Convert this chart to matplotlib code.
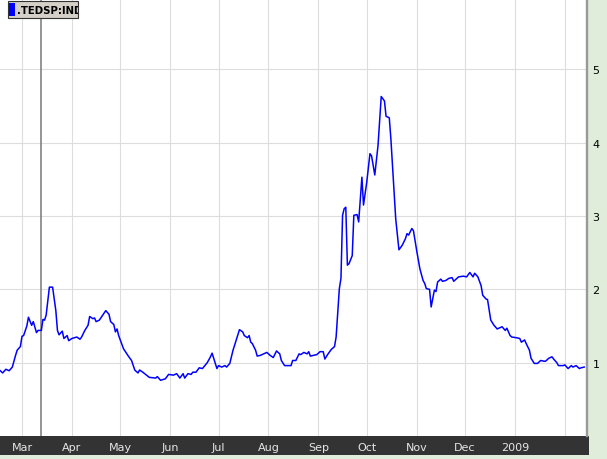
import matplotlib
matplotlib.use("Agg")
import matplotlib.pyplot as plt
import matplotlib.dates as mdates
from matplotlib.patches import Rectangle
import pandas as pd

# ---- data (TED spread) ----
dates = [
    "2008-02-16", "2008-02-18", "2008-02-20", "2008-02-22", "2008-02-24", "2008-02-26", "2008-02-27", "2008-02-29",
    "2008-03-01", "2008-03-02", "2008-03-04", "2008-03-05", "2008-03-07", "2008-03-08", "2008-03-10", "2008-03-11",
    "2008-03-13", "2008-03-14", "2008-03-15", "2008-03-16", "2008-03-18", "2008-03-20", "2008-03-22", "2008-03-23",
    "2008-03-24", "2008-03-26", "2008-03-27", "2008-03-29", "2008-03-30", "2008-04-01", "2008-04-04", "2008-04-06",
    "2008-04-07", "2008-04-09", "2008-04-11", "2008-04-12", "2008-04-14", "2008-04-15", "2008-04-16", "2008-04-18",
    "2008-04-22", "2008-04-24", "2008-04-25", "2008-04-27", "2008-04-28", "2008-04-29", "2008-04-30", "2008-05-03",
    "2008-05-06", "2008-05-08", "2008-05-10", "2008-05-12", "2008-05-13", "2008-05-15", "2008-05-19", "2008-05-23",
    "2008-05-24", "2008-05-26", "2008-05-29", "2008-05-31", "2008-06-03", "2008-06-05", "2008-06-07", "2008-06-09",
    "2008-06-10", "2008-06-12", "2008-06-14", "2008-06-15", "2008-06-17", "2008-06-19", "2008-06-21", "2008-06-24",
    "2008-06-26", "2008-06-27", "2008-06-28", "2008-06-30", "2008-07-01", "2008-07-03", "2008-07-05", "2008-07-06",
    "2008-07-08", "2008-07-10", "2008-07-12", "2008-07-14", "2008-07-16", "2008-07-17", "2008-07-19", "2008-07-20",
    "2008-07-21", "2008-07-22", "2008-07-24", "2008-07-25", "2008-07-27", "2008-07-29", "2008-07-31", "2008-08-01",
    "2008-08-02", "2008-08-04", "2008-08-06", "2008-08-08", "2008-08-09", "2008-08-11", "2008-08-13", "2008-08-15",
    "2008-08-16", "2008-08-18", "2008-08-20", "2008-08-21", "2008-08-23", "2008-08-25", "2008-08-26", "2008-08-27",
    "2008-08-29", "2008-08-31", "2008-09-02", "2008-09-04", "2008-09-05", "2008-09-07", "2008-09-09", "2008-09-11",
    "2008-09-12", "2008-09-13", "2008-09-14", "2008-09-15", "2008-09-16", "2008-09-17", "2008-09-18", "2008-09-19",
    "2008-09-20", "2008-09-22", "2008-09-23", "2008-09-25", "2008-09-26", "2008-09-28", "2008-09-29", "2008-10-01",
    "2008-10-03", "2008-10-04", "2008-10-06", "2008-10-08", "2008-10-10", "2008-10-12", "2008-10-13", "2008-10-15",
    "2008-10-16", "2008-10-19", "2008-10-21", "2008-10-23", "2008-10-25", "2008-10-26", "2008-10-27", "2008-10-29",
    "2008-10-30", "2008-11-01", "2008-11-03", "2008-11-05", "2008-11-06", "2008-11-07", "2008-11-09", "2008-11-10",
    "2008-11-12", "2008-11-13", "2008-11-14", "2008-11-16", "2008-11-17", "2008-11-19", "2008-11-21", "2008-11-23",
    "2008-11-24", "2008-11-26", "2008-11-27", "2008-11-30", "2008-12-02", "2008-12-03", "2008-12-04", "2008-12-06",
    "2008-12-07", "2008-12-09", "2008-12-11", "2008-12-12", "2008-12-14", "2008-12-15", "2008-12-17", "2008-12-19",
    "2008-12-21", "2008-12-22", "2008-12-24", "2008-12-26", "2008-12-27", "2008-12-29", "2008-12-30", "2009-01-02",
    "2009-01-04", "2009-01-05", "2009-01-07", "2009-01-08", "2009-01-10", "2009-01-11", "2009-01-13", "2009-01-15",
    "2009-01-17", "2009-01-19", "2009-01-20", "2009-01-22", "2009-01-24", "2009-01-25", "2009-01-27", "2009-01-28",
    "2009-01-31", "2009-02-01", "2009-02-03", "2009-02-05", "2009-02-06", "2009-02-08", "2009-02-10", "2009-02-11",
    "2009-02-13",
]
ted_spread = [
    0.90, 0.86, 0.91, 0.89, 0.94, 1.10, 1.17, 1.22,
    1.36, 1.37, 1.50, 1.62, 1.51, 1.56, 1.41, 1.44,
    1.44, 1.59, 1.58, 1.65, 2.03, 2.03, 1.71, 1.44,
    1.38, 1.43, 1.33, 1.37, 1.30, 1.33, 1.35, 1.32,
    1.35, 1.44, 1.51, 1.63, 1.60, 1.61, 1.56, 1.58,
    1.71, 1.66, 1.56, 1.52, 1.42, 1.46, 1.37, 1.19,
    1.09, 1.03, 0.90, 0.86, 0.90, 0.87, 0.80, 0.79,
    0.81, 0.76, 0.78, 0.84, 0.83, 0.85, 0.79, 0.85,
    0.79, 0.85, 0.84, 0.87, 0.87, 0.93, 0.92, 1.00,
    1.08, 1.13, 1.06, 0.92, 0.96, 0.94, 0.96, 0.94,
    0.99, 1.17, 1.31, 1.45, 1.42, 1.37, 1.34, 1.37,
    1.28, 1.26, 1.17, 1.09, 1.10, 1.12, 1.14, 1.12,
    1.10, 1.07, 1.16, 1.12, 1.03, 0.96, 0.96, 0.96,
    1.03, 1.03, 1.12, 1.11, 1.14, 1.12, 1.15, 1.09,
    1.10, 1.11, 1.15, 1.15, 1.05, 1.12, 1.18, 1.22,
    1.35, 1.69, 2.01, 2.15, 3.01, 3.10, 3.12, 2.33,
    2.35, 2.46, 3.01, 3.02, 2.92, 3.53, 3.15, 3.46,
    3.85, 3.82, 3.56, 3.96, 4.63, 4.57, 4.36, 4.34,
    4.05, 2.96, 2.54, 2.60, 2.69, 2.76, 2.74, 2.83,
    2.80, 2.53, 2.28, 2.12, 2.08, 2.01, 2.00, 1.76,
    1.99, 1.97, 2.10, 2.14, 2.11, 2.12, 2.15, 2.16,
    2.11, 2.15, 2.17, 2.18, 2.17, 2.20, 2.23, 2.17,
    2.22, 2.17, 2.05, 1.92, 1.87, 1.86, 1.58, 1.51,
    1.46, 1.47, 1.49, 1.44, 1.47, 1.37, 1.35, 1.34,
    1.33, 1.28, 1.31, 1.26, 1.17, 1.06, 0.99, 0.99,
    1.03, 1.02, 1.02, 1.06, 1.08, 1.05, 1.00, 0.96,
    0.96, 0.97, 0.92, 0.96, 0.94, 0.96, 0.92, 0.93,
    0.94,
]
month_ticks = ["2008-03-01", "2008-04-01", "2008-05-01", "2008-06-01", "2008-07-01", "2008-08-01",
               "2008-09-01", "2008-10-01", "2008-11-01", "2008-12-01", "2009-01-01", "2009-02-01"]
month_labels = ["Mar", "Apr", "May", "Jun", "Jul", "Aug", "Sep", "Oct", "Nov", "Dec", "2009", ""]
y_ticks = [1, 2, 3, 4, 5]
y_labels = ["1", "2", "3", "4", "5"]
cursor_date = "2008-03-13"
series_name = ".TEDSP:IND"

# ---- figure ----
W, H = 607, 460
fig = plt.figure(figsize=(W / 100, H / 100), dpi=100, facecolor="#DFEDDA")
ax = fig.add_axes([0, 23 / H, 587 / W, 437 / H])
ax.set_facecolor("white")

x = pd.to_datetime(dates)
ax.plot(x, ted_spread, color="#0000FF", lw=1.1, zorder=3)

x0 = mdates.date2num(pd.Timestamp("2008-03-01")) - 13.66
ax.set_xlim(x0, x0 + 364.4)
ax.set_ylim(0, 5.96)

ax.set_xticks(mdates.date2num(pd.to_datetime(month_ticks)))
ax.set_xticklabels(month_labels)
ax.set_yticks(y_ticks)
ax.set_yticklabels(y_labels)
ax.yaxis.tick_right()
ax.tick_params(axis="x", length=0, pad=4, labelcolor="#E6E6E6", labelsize=8)
ax.tick_params(axis="y", length=0, pad=4, labelcolor="black", labelsize=8)
ax.grid(True, color="#DDDDDD", lw=0.8, zorder=0)

for s in ["top", "left", "bottom"]:
    ax.spines[s].set_visible(False)
ax.spines["right"].set_color("#999999")
ax.spines["right"].set_linewidth(1.7)

ax.axvline(mdates.date2num(pd.Timestamp(cursor_date)), color="#8C8C8C", lw=1.3, zorder=2)

# bottom dark bar
fig.add_artist(Rectangle((0, 4 / H), 589 / W, 19 / H, transform=fig.transFigure,
                         facecolor="#333333", edgecolor="none", zorder=0))

# legend box (top-left)
box = Rectangle((7.5 / W, (H - 18.5) / H), 70 / W, 16.5 / H, transform=fig.transFigure,
                facecolor="#D4D0C8", edgecolor="#333333", lw=0.8, zorder=10)
fig.add_artist(box)
fig.add_artist(Rectangle((9 / W, (H - 16.5) / H), 6 / W, 13 / H, transform=fig.transFigure,
                         facecolor="#0000FF", edgecolor="none", zorder=11))
t = fig.text(17 / W, (H - 10.5) / H, series_name, fontsize=7.3, fontweight="bold",
             color="black", va="center", ha="left", zorder=12)
t.set_clip_path(box)

fig.savefig("out.png", dpi=100, facecolor=fig.get_facecolor())
